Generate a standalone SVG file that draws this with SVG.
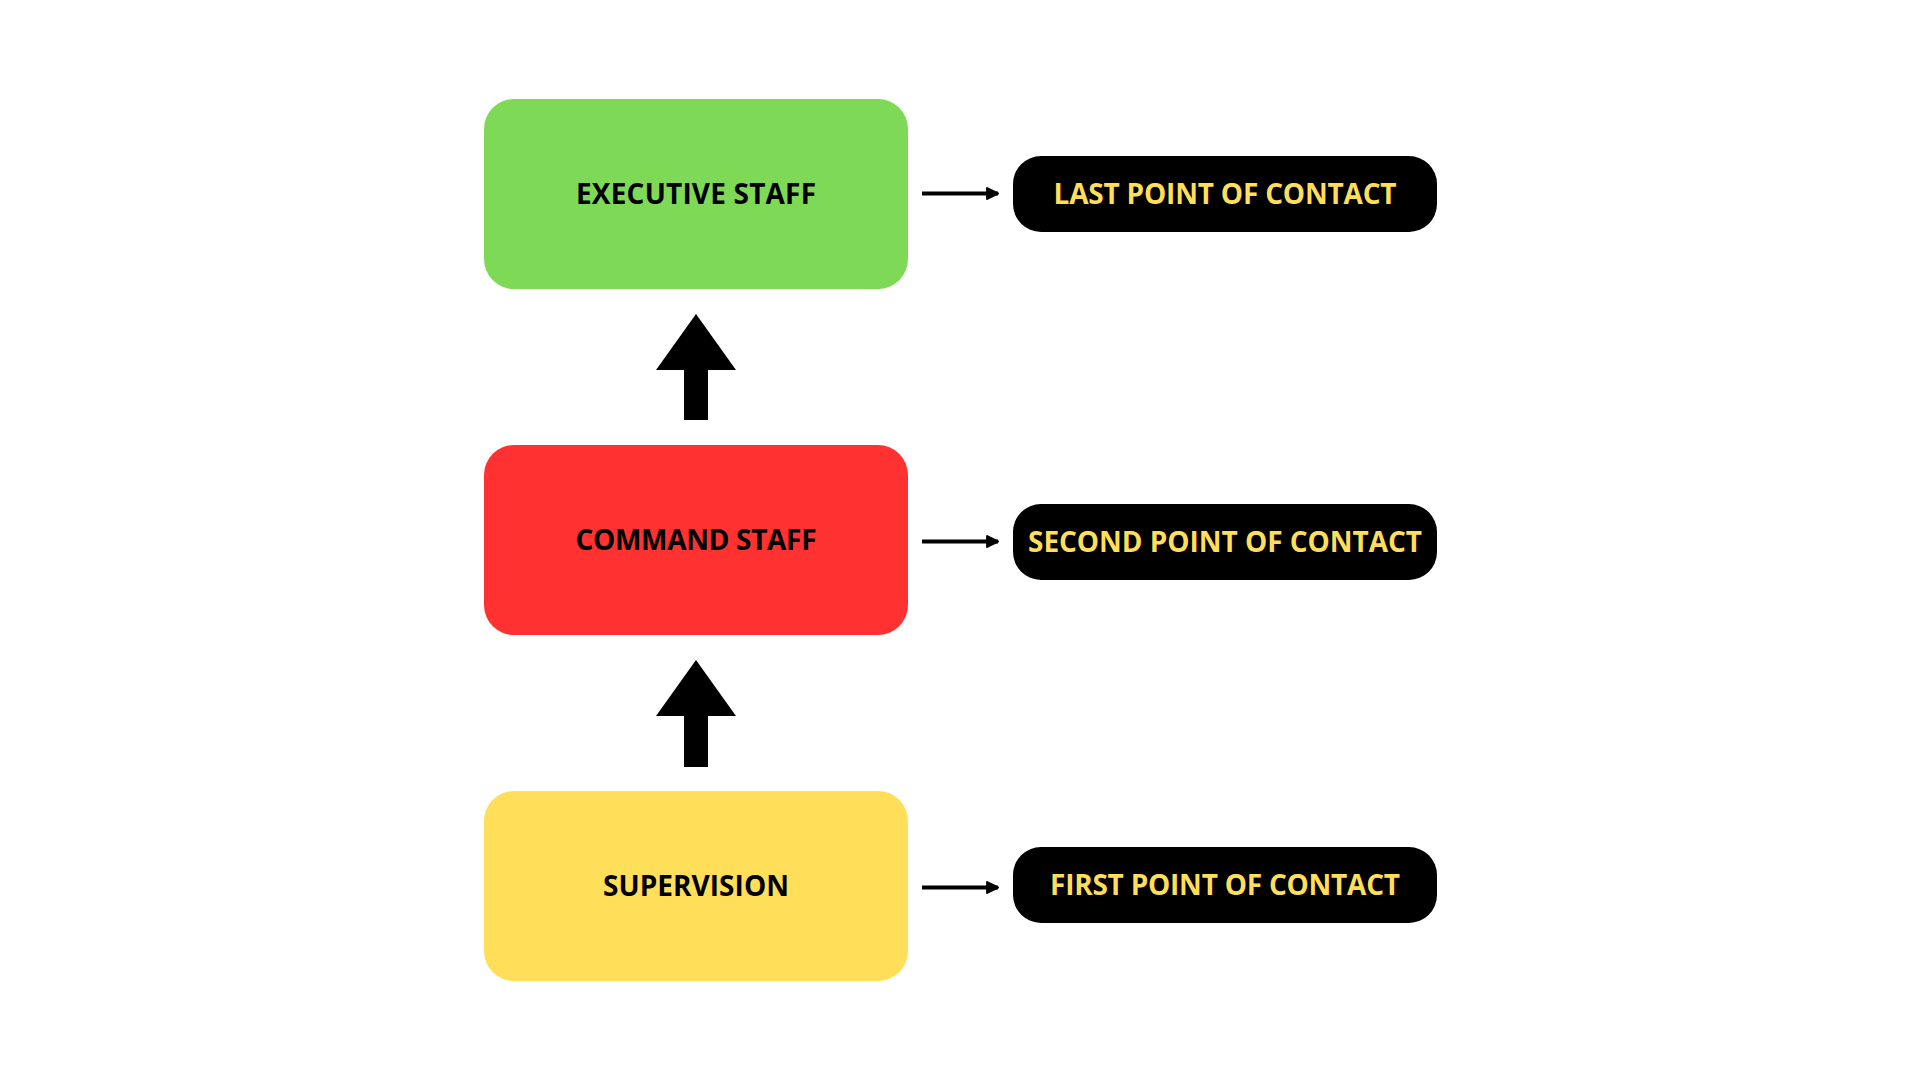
<svg xmlns="http://www.w3.org/2000/svg" width="1920" height="1080" viewBox="0 0 1920 1080">
<style>
.box-text{font-family:"Open Sans","Liberation Sans",sans-serif;font-weight:700;font-size:28px;fill:#000;text-anchor:middle}
.pill-text{font-family:"Open Sans","Liberation Sans",sans-serif;font-weight:700;font-size:28px;fill:#FFDE59;text-anchor:middle}
.pill{fill:#000}
.link{stroke:#000;stroke-width:4;fill:none}
.up{fill:#000}
</style>
<defs>
<marker id="ah" viewBox="0 0 10 10" refX="9" refY="5" markerWidth="3.4" markerHeight="3.6" orient="auto" markerUnits="strokeWidth">
<path d="M1,1 L9,5 L1,9 Z" fill="#000" stroke="#000" stroke-width="1.5" stroke-linejoin="round"/>
</marker>
</defs>
<rect width="1920" height="1080" fill="#fff"/>
<g id="executive-staff">
<rect x="484" y="99" width="424" height="190" rx="30" fill="#7ED957"/>
<text class="box-text" x="696" y="204" textLength="240">EXECUTIVE STAFF</text>
</g>
<g id="command-staff">
<rect x="484" y="445" width="424" height="190" rx="30" fill="#FF3131"/>
<text class="box-text" x="696" y="550" textLength="241">COMMAND STAFF</text>
</g>
<g id="supervision">
<rect x="484" y="791" width="424" height="190" rx="30" fill="#FFDE59"/>
<text class="box-text" x="696" y="896" textLength="186">SUPERVISION</text>
</g>
<g id="last-point">
<rect class="pill" x="1013" y="156" width="424" height="76" rx="28"/>
<text class="pill-text" x="1225" y="204" textLength="343">LAST POINT OF CONTACT</text>
</g>
<g id="second-point">
<rect class="pill" x="1013" y="504" width="424" height="76" rx="28"/>
<text class="pill-text" x="1225" y="551.5" textLength="394">SECOND POINT OF CONTACT</text>
</g>
<g id="first-point">
<rect class="pill" x="1013" y="847" width="424" height="76" rx="28"/>
<text class="pill-text" x="1225" y="895" textLength="350">FIRST POINT OF CONTACT</text>
</g>
<g id="connectors">
<polygon class="up" points="696,314 736,370 708,370 708,420 684,420 684,370 656,370"/>
<polygon class="up" points="696,660 736,716 708,716 708,767 684,767 684,716 656,716"/>
<line class="link" x1="922" y1="193.5" x2="998" y2="193.5" marker-end="url(#ah)"/>
<line class="link" x1="922" y1="541.5" x2="998" y2="541.5" marker-end="url(#ah)"/>
<line class="link" x1="922" y1="887.5" x2="998" y2="887.5" marker-end="url(#ah)"/>
</g>
</svg>
